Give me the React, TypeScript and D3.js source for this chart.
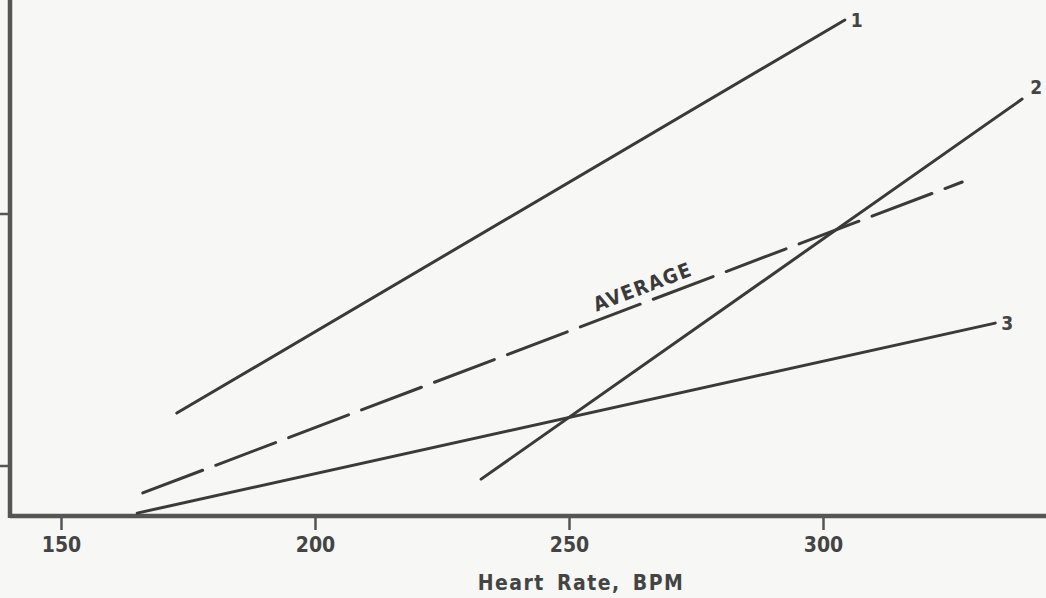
import React from 'react';
import * as d3 from 'd3';

// heart rate (BPM) ticks and the line end points
const xTicks = [150, 200, 250, 300];
const yTicks = [10, 20];

const line1X = [172.8, 304.3];
const line1Y = [12.1, 27.7];
const line2X = [232.7, 339.2];
const line2Y = [9.48, 24.56];
const line3X = [165.0, 333.9];
const line3Y = [8.13, 15.67];
const avgX = [166.1, 327.4];
const avgY = [8.93, 21.27];

const lineLabels = ['1', '2', '3'];
const avgLabel = 'AVERAGE';
const xTitle = 'Heart Rate, BPM';

const W = 1046;
const H = 598;
const INK = '#3a3a3a';
const AXIS = '#555';
const FONT = '"DejaVu Sans Condensed", "DejaVu Sans", sans-serif';

const App: React.FC = () => {
    const svgRef = React.useRef<SVGSVGElement>(null);

    const render = React.useCallback(() => {
        document.body.style.margin = '0';
        const svg = d3.select(svgRef.current);
        svg.selectAll('*').remove();
        svg.attr('width', W).attr('height', H);

        const x = d3.scaleLinear().domain([150, 300]).range([61, 823]);
        const y = d3.scaleLinear().domain([10, 20]).range([466, 214]);
        const axisY = 516;
        const axisX = 10;

        svg.append('rect').attr('width', W).attr('height', H).attr('fill', '#f7f7f6');

        // x axis
        const gx = svg.append('g').attr('transform', `translate(0,${axisY})`);
        gx.call(d3.axisBottom(x).tickValues(xTicks).tickSize(14).tickPadding(7) as any);
        gx.select('.domain').remove();
        gx.selectAll('.tick line').attr('stroke', AXIS).attr('stroke-width', 2.5);
        gx.selectAll('.tick text')
          .attr('fill', '#444')
          .attr('font-family', FONT)
          .attr('font-weight', 'bold')
          .attr('font-size', 21);
        svg.append('line')
          .attr('x1', axisX).attr('x2', W)
          .attr('y1', axisY).attr('y2', axisY)
          .attr('stroke', AXIS).attr('stroke-width', 4.5);

        // y axis (no labels)
        svg.append('line')
          .attr('x1', axisX).attr('x2', axisX)
          .attr('y1', 0).attr('y2', axisY + 2)
          .attr('stroke', AXIS).attr('stroke-width', 4.5);
        svg.selectAll('.ytick')
          .data(yTicks)
          .join('line')
          .attr('class', 'ytick')
          .attr('x1', 0).attr('x2', axisX)
          .attr('y1', d => y(d)).attr('y2', d => y(d))
          .attr('stroke', AXIS).attr('stroke-width', 2.5);

        svg.append('text')
          .attr('x', 581).attr('y', 590)
          .attr('text-anchor', 'middle')
          .attr('font-family', FONT)
          .attr('font-weight', 'bold')
          .attr('font-size', 21)
          .attr('letter-spacing', 1.5)
          .attr('word-spacing', 4)
          .attr('fill', '#444')
          .text(xTitle);

        const lineGen = d3.line<[number, number]>().x(d => x(d[0])).y(d => y(d[1]));
        const series = [
            { xs: line1X, ys: line1Y, label: lineLabels[0], dash: null, dx: 6, dy: 0 },
            { xs: line2X, ys: line2Y, label: lineLabels[1], dash: null, dx: 8, dy: -12 },
            { xs: line3X, ys: line3Y, label: lineLabels[2], dash: null, dx: 6, dy: 0 },
            { xs: avgX, ys: avgY, label: '', dash: '64 14', dx: 0, dy: 0 },
        ];
        series.forEach(s => {
            const pts = s.xs.map((v, i) => [v, s.ys[i]] as [number, number]);
            svg.append('path')
              .attr('d', lineGen(pts))
              .attr('fill', 'none')
              .attr('stroke', INK)
              .attr('stroke-width', 3)
              .attr('stroke-linecap', 'round')
              .attr('stroke-dasharray', s.dash);
            if (s.label) {
                const last = pts[pts.length - 1];
                svg.append('text')
                  .attr('x', x(last[0]) + s.dx)
                  .attr('y', y(last[1]) + s.dy)
                  .attr('dy', '0.35em')
                  .attr('font-family', FONT)
                  .attr('font-weight', 'bold')
                  .attr('font-size', 19)
                  .attr('fill', '#444')
                  .text(s.label);
            }
        });

        // AVERAGE label along the dashed line
        const ax0 = x(avgX[0]), ay0 = y(avgY[0]);
        const ax1 = x(avgX[1]), ay1 = y(avgY[1]);
        const angle = Math.atan2(ay1 - ay0, ax1 - ax0) * 180 / Math.PI;
        const lx = x(265);
        const ly = ay0 + (lx - ax0) * (ay1 - ay0) / (ax1 - ax0) - 9;
        svg.append('text')
          .attr('transform', `translate(${lx},${ly}) rotate(${angle})`)
          .attr('text-anchor', 'middle')
          .attr('font-family', FONT)
          .attr('font-weight', 'bold')
          .attr('font-size', 20)
          .attr('letter-spacing', 1.5)
          .attr('fill', '#3a3a3a')
          .text(avgLabel);
    }, []);

    React.useEffect(() => {
        render();
    }, [render]);

    return <svg ref={svgRef} style={{ display: 'block' }} />;
};

export default App;
